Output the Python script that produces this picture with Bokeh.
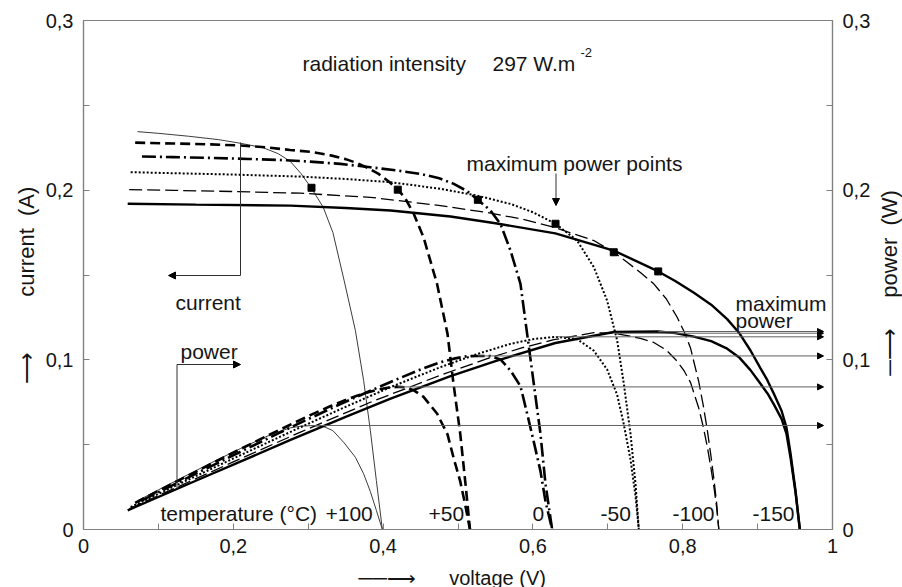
import numpy as np
from bokeh.plotting import figure
from bokeh.models import (Range1d, LinearAxis, FixedTicker, CustomJSTickFormatter,
                          Label, Arrow, NormalHead, ColumnDataSource)
from bokeh.embed import file_html
from bokeh.resources import INLINE

# ---------------- data ----------------
temperatures = ["+100", "+50", "0", "-50", "-100", "-150"]

v_p100 = [0.072, 0.10, 0.14, 0.18, 0.21, 0.24, 0.26, 0.276, 0.29, 0.304, 0.32, 0.333, 0.348, 0.363, 0.374, 0.383, 0.391, 0.399]
i_p100 = [0.2345, 0.2335, 0.2318, 0.2298, 0.2276, 0.2250, 0.2215, 0.2170, 0.2100, 0.2014, 0.1900, 0.1750, 0.1467, 0.1173, 0.0878, 0.0583, 0.0289, 0.0]

v_p50 = [0.069, 0.12, 0.17, 0.21, 0.245, 0.276, 0.305, 0.33, 0.35, 0.365, 0.38, 0.394, 0.408, 0.42, 0.43, 0.441, 0.454, 0.472, 0.486, 0.494, 0.503, 0.510, 0.516]
i_p50 = [0.228, 0.2275, 0.2270, 0.2263, 0.2252, 0.2237, 0.2225, 0.2205, 0.2183, 0.2160, 0.2130, 0.2096, 0.2050, 0.2003, 0.1949, 0.1860, 0.1722, 0.1448, 0.1153, 0.0859, 0.0564, 0.0269, 0.0]

v_0 = [0.078, 0.12, 0.17, 0.22, 0.26, 0.29, 0.343, 0.383, 0.42, 0.45, 0.475, 0.4944, 0.512, 0.5265, 0.5434, 0.5567, 0.5701, 0.5834, 0.5923, 0.6012, 0.6101, 0.6168, 0.6257]
i_0 = [0.2198, 0.2195, 0.2190, 0.2184, 0.2178, 0.2172, 0.2155, 0.2135, 0.2115, 0.2096, 0.2070, 0.2037, 0.1995, 0.1943, 0.1880, 0.1801, 0.1644, 0.1448, 0.1153, 0.0859, 0.0564, 0.0269, 0.0]

v_m50 = [0.063, 0.12, 0.20, 0.2897, 0.35, 0.41, 0.4766, 0.5256, 0.5701, 0.60, 0.6302, 0.659, 0.6814, 0.6991, 0.7125, 0.7214, 0.7303, 0.737, 0.7414]
i_m50 = [0.2106, 0.2100, 0.2092, 0.2080, 0.2066, 0.2047, 0.2008, 0.1968, 0.1919, 0.1870, 0.1802, 0.1703, 0.1546, 0.1349, 0.1114, 0.0859, 0.0564, 0.0269, 0.0]

v_m100 = [0.061, 0.12, 0.20, 0.2897, 0.383, 0.4766, 0.539, 0.585, 0.628, 0.6814, 0.708, 0.7259, 0.7435, 0.7614, 0.778, 0.7926, 0.802, 0.8104, 0.8215, 0.8275, 0.8327, 0.8375, 0.8416, 0.8452, 0.8482]
i_m100 = [0.2003, 0.1999, 0.1992, 0.1982, 0.1958, 0.1909, 0.1868, 0.1830, 0.1781, 0.1703, 0.1634, 0.1575, 0.1515, 0.1448, 0.1360, 0.1251, 0.1165, 0.1070, 0.0870, 0.0730, 0.0590, 0.0440, 0.0300, 0.0160, 0.0]

v_m150 = [0.059, 0.15, 0.2764, 0.35, 0.41, 0.49, 0.55, 0.63, 0.708, 0.7673, 0.79, 0.815, 0.838, 0.8594, 0.876, 0.8905, 0.9039, 0.913, 0.9217, 0.932, 0.9386, 0.9439, 0.9506, 0.9564]
i_m150 = [0.1920, 0.1915, 0.1909, 0.1895, 0.1880, 0.1845, 0.1805, 0.1745, 0.1644, 0.1521, 0.1465, 0.1395, 0.1325, 0.1240, 0.1155, 0.1055, 0.0950, 0.0880, 0.0800, 0.0700, 0.0600, 0.0450, 0.0230, 0.0]

# maximum power points (voltage, current)
mpp_v = [0.3044, 0.4196, 0.5265, 0.6302, 0.7080, 0.7673]
mpp_i = [0.2014, 0.2003, 0.1943, 0.1802, 0.1634, 0.1521]

x_ticks = [0, 0.2, 0.4, 0.6, 0.8, 1.0]
x_minor = [0.1, 0.3, 0.5, 0.7, 0.9]
y_ticks = [0, 0.1, 0.2, 0.3]
y_minor = [0.05, 0.15, 0.25]

curves_v = [v_p100, v_p50, v_0, v_m50, v_m100, v_m150]
curves_i = [i_p100, i_p50, i_0, i_m50, i_m100, i_m150]

# ---------------- figure ----------------
W, H = 902, 587
L, R, T, B = 83, 832, 20, 529
p = figure(width=W, height=H, output_backend="svg", toolbar_location=None,
           x_range=Range1d(0, 1), y_range=Range1d(0, 0.3),
           min_border_left=L, min_border_right=W - R, min_border_top=T, min_border_bottom=H - B)
p.title.visible = False
p.xgrid.visible = False
p.ygrid.visible = False
p.outline_line_color = "#808080"
p.outline_line_width = 1.2
p.background_fill_color = "white"
p.border_fill_color = "white"

FONT = "Liberation Sans"
TXT = "#151515"
NB = "\u00a0"
ARW = "\u27f6"
LINE = "\u2500"


def dx(px):
    return (px - L) / (R - L)


def dy(py):
    return (B - py) / (B - T) * 0.3


fmt = CustomJSTickFormatter(code="""
if (Math.abs(tick - Math.round(tick)) < 1e-9) { return String(Math.round(tick)); }
return tick.toFixed(1).replace('.', ',');
""")


def style_axis(ax, ticks, minor, standoff=10):
    ax.ticker = FixedTicker(ticks=ticks, minor_ticks=minor)
    ax.formatter = fmt
    ax.axis_line_color = "#808080"
    ax.axis_line_width = 1.2
    ax.major_tick_in = 6
    ax.major_tick_out = 0
    ax.minor_tick_in = 6
    ax.minor_tick_out = 0
    ax.major_tick_line_color = "#808080"
    ax.minor_tick_line_color = "#808080"
    ax.major_label_text_font = FONT
    ax.major_label_text_font_size = "20px"
    ax.major_label_text_color = TXT
    ax.major_label_standoff = standoff


style_axis(p.xaxis[0], x_ticks, x_minor, standoff=9)
style_axis(p.yaxis[0], y_ticks, y_minor)
right_axis = LinearAxis()
p.add_layout(right_axis, "right")
style_axis(right_axis, y_ticks, y_minor)

# ---------------- maximum power arrows ----------------
mpp_p = [a * b for a, b in zip(mpp_v, mpp_i)]
arrow_src = ColumnDataSource(dict(x0=mpp_v, x1=[dx(823)] * len(mpp_v), y=mpp_p))
p.add_layout(Arrow(source=arrow_src, x_start="x0", y_start="y", x_end="x1", y_end="y",
                   line_color="#606060", line_width=1,
                   end=NormalHead(size=6, fill_color="black", line_color="black")))

# ---------------- curves ----------------
styles = [
    dict(line_width=1.0, line_color="#3c3c3c", line_dash="solid"),
    dict(line_width=2.6, line_color="black", line_dash="10 5"),
    dict(line_width=2.6, line_color="black", line_dash="14 4 2 4"),
    dict(line_width=2.0, line_color="black", line_dash="2 2"),
    dict(line_width=1.3, line_color="black", line_dash="13 5"),
    dict(line_width=2.4, line_color="black", line_dash="solid"),
]
for name, vv, ii, st in zip(temperatures, curves_v, curves_i, styles):
    va = np.array(vv)
    ia = np.array(ii)
    p.line(va, ia, **st)          # current
    p.line(va, va * ia, **st)     # power = V * I

p.scatter(mpp_v, mpp_i, marker="square", size=7, color="black")


# ---------------- annotations ----------------
def lab(x, y, text, size="21px", align="left", baseline="alphabetic", angle=0.0,
        place=None, font=FONT, color=TXT):
    lbl = Label(x=x, y=y, text=text, text_font=font, text_font_size=size,
                text_align=align, text_baseline=baseline, angle=angle,
                text_color=color)
    if place is None:
        p.add_layout(lbl)
    else:
        p.add_layout(lbl, place)


def arr(x0, y0, x1, y1, head=True, color="#303030", size=7):
    p.add_layout(Arrow(x_start=x0, y_start=y0, x_end=x1, y_end=y1,
                       line_color=color, line_width=1,
                       end=NormalHead(size=size, fill_color="black", line_color="black") if head else None))


lab(dx(302), dy(63), "radiation intensity")
lab(dx(492), dy(63), "297 W.m")
lab(dx(580), dy(52), "-2", size="13px")

lab(dx(466), dy(163), "maximum power points")
arr(dx(555.5), dy(173), dx(555.5), dy(205))

lab(dx(175), dy(302), "current")
arr(dx(240), dy(142), dx(240), dy(275), head=False)
arr(dx(240), dy(275), dx(168), dy(275))

lab(dx(180), dy(351), "power")
arr(dx(176.5), dy(488), dx(176.5), dy(364), head=False)
arr(dx(176.5), dy(364), dx(240), dy(364))

lab(dx(735), dy(303), "maximum")
lab(dx(735), dy(320), "power")

temp_x = [325, 428, 532, 600, 672, 752]
lab(dx(160), dy(513), "temperature (°C)")
for t, xp in zip(temperatures, temp_x):
    lab(dx(xp), dy(513), t)

# axis titles with their arrows, one label per side panel (not clipped by the frame)
lab(dx(26), dy(284.7), ARW + NB * 9 + "current" + NB * 2 + "(A)", size="22px",
    align="center", baseline="middle", angle=np.pi / 2, place="left")
lab(dx(889), dy(282.5), LINE + ARW + NB * 5 + "power" + NB * 2 + "(W)", size="22px",
    align="center", baseline="middle", angle=np.pi / 2, place="right")
lab(dx(358), dy(577), LINE + LINE + ARW + NB * 6 + "voltage" + NB + "(V)", size="20px",
    align="left", baseline="middle", place="below")

open("out.html", "w").write(file_html(p, INLINE))
